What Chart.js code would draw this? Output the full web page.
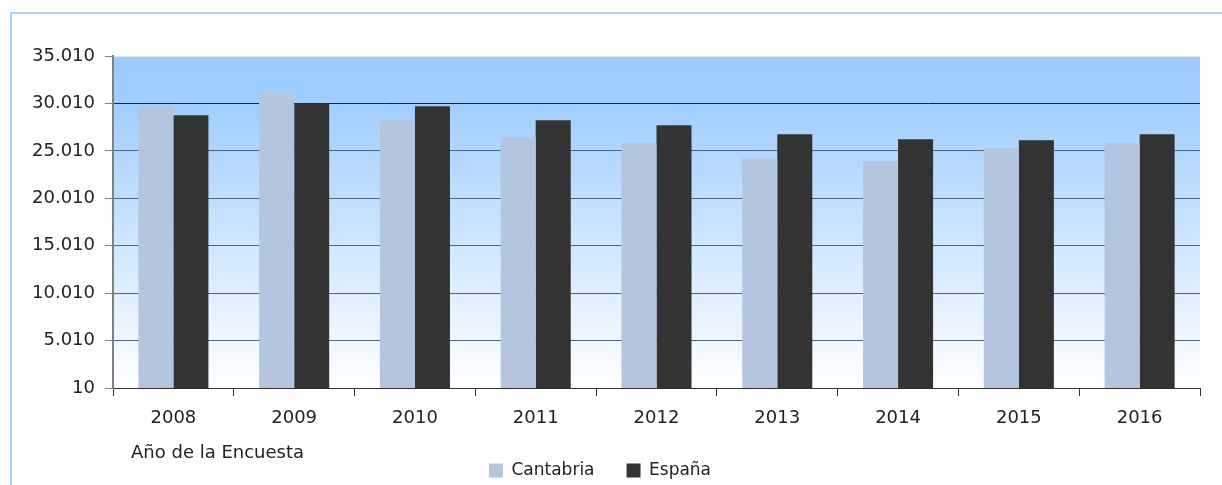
<!DOCTYPE html>
<html>
<head>
<meta charset="utf-8">
<script src="https://cdn.jsdelivr.net/npm/chart.js@4.4.0/dist/chart.umd.min.js"></script>
<style>
  html, body { margin: 0; padding: 0; background: #fff; overflow: hidden; }
  #frame { position: absolute; left: 10px; top: 12px; width: 1240px; height: 500px; border: 2px solid #a9d5ff; }
  #wrap { position: absolute; left: 0; top: 0; width: 1222px; height: 485px; overflow: hidden; }
</style>
</head>
<body>
<div id="frame"></div>
<div id="wrap"><canvas id="chart" width="1222" height="493"></canvas></div>
<script>
const years = ["2008", "2009", "2010", "2011", "2012", "2013", "2014", "2015", "2016"];
const cantabria = [29620, 31280, 28240, 26440, 25800, 24220, 23910, 25280, 25800];
const espana = [28770, 30010, 29720, 28240, 27710, 26760, 26230, 26130, 26760];
const yTicks = [10, 5010, 10010, 15010, 20010, 25010, 30010, 35010];
const xTitle = "Año de la Encuesta";

const FONT = "'DejaVu Sans', sans-serif";

function fmt(v) {
  return String(v).replace(/\B(?=(\d{3})+(?!\d))/g, ".");
}

const plotBg = {
  id: "plotBg",
  beforeDraw(chart) {
    const { ctx, chartArea: a } = chart;
    const g = ctx.createLinearGradient(0, a.top, 0, a.bottom);
    g.addColorStop(0, "#9ccbff");
    g.addColorStop(0.12, "#9ecdff");
    g.addColorStop(1, "#ffffff");
    ctx.save();
    ctx.fillStyle = g;
    ctx.fillRect(a.left, a.top, a.right - a.left, a.bottom - a.top);
    ctx.strokeStyle = "#e6e6e6";
    ctx.lineWidth = 1;
    ctx.beginPath();
    ctx.moveTo(a.left, a.top + 0.5);
    ctx.lineTo(a.right, a.top + 0.5);
    ctx.stroke();
    ctx.restore();
  },
  // axis title sits just above the legend, left aligned
  afterDraw(chart) {
    const { ctx, chartArea: a } = chart;
    ctx.save();
    ctx.font = "18px " + FONT;
    ctx.fillStyle = "#222";
    ctx.textAlign = "left";
    ctx.textBaseline = "middle";
    ctx.fillText(xTitle, a.left + 18, a.bottom + 65);
    ctx.restore();
  }
};

const chart = new Chart(document.getElementById("chart").getContext("2d"), {
  type: "bar",
  data: {
    labels: years,
    datasets: [
      { label: "Cantabria", data: cantabria, backgroundColor: "#b4c5e0", borderWidth: 0 },
      { label: "España", data: espana, backgroundColor: "#333333", borderWidth: 0 }
    ]
  },
  options: {
    responsive: false,
    animation: false,
    layout: { padding: { top: 56, right: 22, left: 0, bottom: 4 } },
    datasets: { bar: { categoryPercentage: 0.58, barPercentage: 1 } },
    plugins: {
      legend: {
        position: "bottom",
        labels: { font: { family: FONT, size: 17 }, color: "#222", boxWidth: 14, boxHeight: 14, padding: 32 }
      },
      tooltip: { enabled: false }
    },
    scales: {
      x: {
        afterFit(scale) { scale.height = 42; },
        grid: { display: true, drawOnChartArea: false, tickLength: 8, color: "#333", offset: true },
        border: { color: "#333", width: 1 },
        ticks: { font: { family: FONT, size: 18 }, color: "#222", padding: 12 }
      },
      y: {
        min: 10,
        max: 35010,
        afterBuildTicks(scale) { scale.ticks = yTicks.map(v => ({ value: v })); },
        afterFit(scale) { scale.width = 113; },
        grid: {
          tickLength: 8,
          tickColor: "#808080",
          color(ctx) {
            if (ctx.tick && ctx.tick.value === 30010) return "#1c2230";
            if (ctx.tick && ctx.tick.value === 35010) return "rgba(0,0,0,0)";
            return "#4d6680";
          },
          lineWidth: 1
        },
        border: { color: "#808080", width: 2 },
        ticks: { font: { family: FONT, size: 18 }, color: "#222", padding: 10, callback: v => fmt(v) }
      }
    }
  },
  plugins: [plotBg]
});
</script>
</body>
</html>
